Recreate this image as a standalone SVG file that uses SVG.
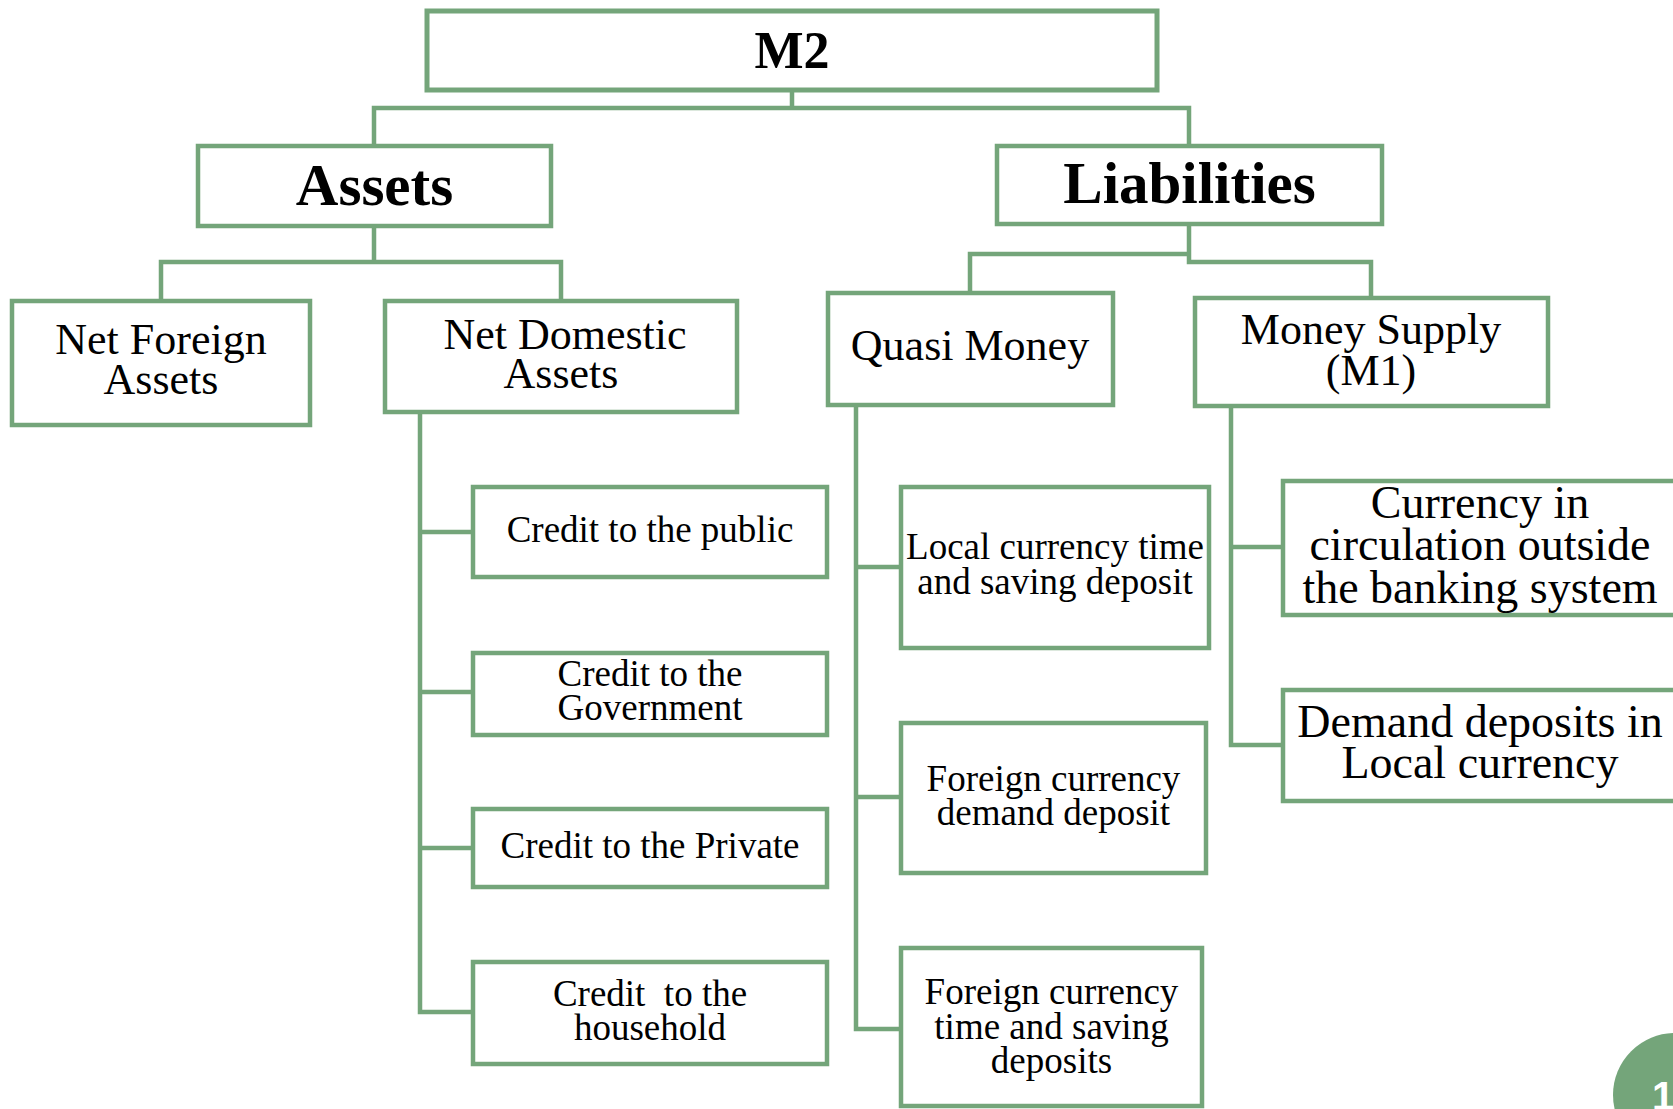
<svg xmlns="http://www.w3.org/2000/svg" width="1673" height="1109" viewBox="0 0 1673 1109">
<style>
.box{fill:#fff;stroke:#74a57a;stroke-width:4.5}
.ln{fill:none;stroke:#74a57a;stroke-width:4.5;stroke-linejoin:miter;stroke-linecap:square}
text{font-family:"Liberation Serif","Times New Roman",serif;fill:#000;text-anchor:middle}
.t1{font-size:59px;font-weight:bold}
.t2{font-size:44px}
.t3{font-size:37px}
.t4{font-size:46px}
</style>
<rect width="1673" height="1109" fill="#fff"/>
<g id="connectors">
<path class="ln" d="M792 90V108M374 146V108H1189V146"/>
<path class="ln" d="M374 226V262M161 301V262H561V301"/>
<path class="ln" d="M1189 224V262M970 293V254H1189M1189 262H1371V298"/>
<path class="ln" d="M420 412V1012M420 532H473M420 692H473M420 848H473M420 1012H473"/>
<path class="ln" d="M856 405V1029M856 567H901M856 797H901M856 1029H901"/>
<path class="ln" d="M1231 406V745M1231 547H1283M1231 745H1283"/>
</g>
<g id="m2"><rect class="box" x="427" y="11" width="730" height="79" style="stroke-width:5"/><text class="t1" x="792" y="68" style="font-size:52px">M2</text></g>
<g id="assets"><rect class="box" x="198" y="146" width="353" height="80"/><text class="t1" x="374.5" y="205">Assets</text></g>
<g id="liabilities"><rect class="box" x="997" y="146" width="385" height="78"/><text class="t1" x="1189.5" y="203">Liabilities</text></g>
<g id="nfa"><rect class="box" x="12" y="301" width="298" height="124"/><text class="t2" x="161" y="354">Net Foreign</text><text class="t2" x="161" y="394">Assets</text></g>
<g id="nda"><rect class="box" x="385" y="301" width="352" height="111"/><text class="t2" x="565" y="349">Net Domestic</text><text class="t2" x="561" y="388">Assets</text></g>
<g id="quasi"><rect class="box" x="828" y="293" width="285" height="112"/><text class="t2" x="970" y="360">Quasi Money</text></g>
<g id="m1"><rect class="box" x="1195" y="298" width="353" height="108"/><text class="t2" x="1371" y="344">Money Supply</text><text class="t2" x="1371" y="385">(M1)</text></g>
<g id="public"><rect class="box" x="473" y="487" width="354" height="90"/><text class="t3" x="650" y="542">Credit to the public</text></g>
<g id="gov"><rect class="box" x="473" y="653" width="354" height="82"/><text class="t3" x="650" y="686">Credit to the</text><text class="t3" x="650" y="720">Government</text></g>
<g id="private"><rect class="box" x="473" y="809" width="354" height="78"/><text class="t3" x="650" y="858">Credit to the Private</text></g>
<g id="household"><rect class="box" x="473" y="962" width="354" height="102"/><text class="t3" x="650" y="1006" xml:space="preserve">Credit  to the</text><text class="t3" x="650" y="1040">household</text></g>
<g id="local"><rect class="box" x="901" y="487" width="308" height="161"/><text class="t3" x="1055" y="559">Local currency time</text><text class="t3" x="1055" y="594">and saving deposit</text></g>
<g id="fdemand"><rect class="box" x="901" y="723" width="305" height="150"/><text class="t3" x="1053.5" y="791">Foreign currency</text><text class="t3" x="1053.5" y="825">demand deposit</text></g>
<g id="ftime"><rect class="box" x="901" y="948" width="301" height="158"/><text class="t3" x="1051.5" y="1004">Foreign currency</text><text class="t3" x="1051.5" y="1039">time and saving</text><text class="t3" x="1051.5" y="1073">deposits</text></g>
<g id="currency"><rect class="box" x="1283" y="481" width="420" height="134"/><text class="t4" x="1480" y="518">Currency in</text><text class="t4" x="1480" y="560">circulation outside</text><text class="t4" x="1480" y="603">the banking system</text></g>
<g id="demand"><rect class="box" x="1283" y="690" width="420" height="111"/><text class="t4" x="1480" y="737">Demand deposits in</text><text class="t4" x="1480" y="778">Local currency</text></g>
<g id="page"><circle cx="1675" cy="1095" r="62" fill="#74a57a"/><text x="1652" y="1110" style="font-family:'Liberation Sans',Arial,sans-serif;font-size:40px;font-weight:bold;fill:#fff;text-anchor:start">19</text></g>
</svg>
